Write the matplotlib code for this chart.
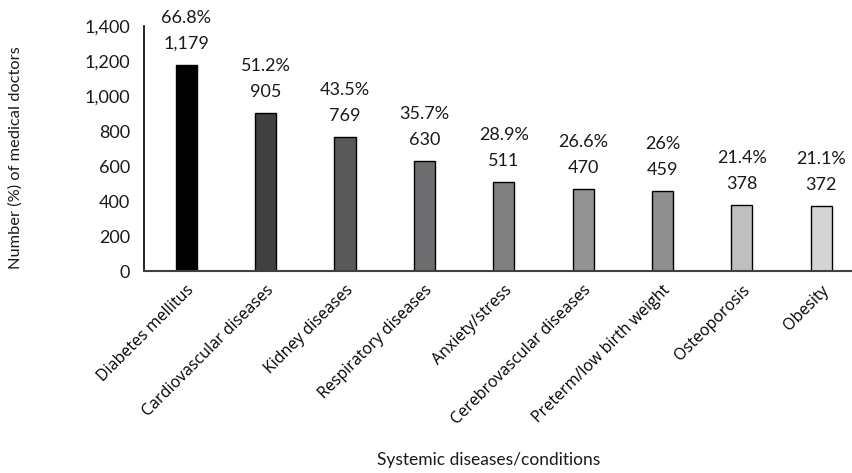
import matplotlib
matplotlib.use("Agg")
import matplotlib.pyplot as plt
import numpy as np

# =============================================================================
# Data
# =============================================================================
diseases = ["Diabetes mellitus", "Cardiovascular diseases", "Kidney diseases",
            "Respiratory diseases", "Anxiety/stress", "Cerebrovascular diseases",
            "Preterm/low birth weight", "Osteoporosis", "Obesity"]
counts = [1179, 905, 769, 630, 511, 470, 459, 378, 372]
percents = ["66.8%", "51.2%", "43.5%", "35.7%", "28.9%", "26.6%", "26%", "21.4%", "21.1%"]
barColors = ["#000000", "#404040", "#595959", "#6d6d70", "#808080",
             "#939393", "#8f8f8f", "#bfbfbf", "#d4d4d4"]
yticks = [0, 200, 400, 600, 800, 1000, 1200, 1400]

txtFont = dict(family="Lato", color="#1a1a1a")

# =============================================================================
# Figure
# =============================================================================
fig = plt.figure(figsize=(8.53, 4.73), dpi=100)
ax = fig.add_axes([0.169, 0.427, 0.831, 0.517])

x = np.arange(len(diseases))
ax.bar(x, counts, width=0.265, color=barColors, edgecolor="black", linewidth=1.0, zorder=2)

# labels au-dessus des barres : pourcentage puis nombre
for xi, c, p in zip(x, counts, percents):
    ax.annotate(f"{c:,}", (xi, c), xytext=(0, 21), textcoords="offset pixels",
                ha="center", va="center", fontsize=13, **txtFont)
    ax.annotate(p, (xi, c), xytext=(0, 47), textcoords="offset pixels",
                ha="center", va="center", fontsize=13, **txtFont)

ax.set_xlim(-0.53, 8.40)
ax.set_ylim(0, 1400)
ax.set_yticks(yticks)
ax.set_yticklabels([f"{v:,}" for v in yticks], fontsize=13, **txtFont)
ax.tick_params(axis="y", length=0, pad=10)
ax.set_xticks(x)
ax.set_xticklabels(diseases, rotation=45, ha="right", va="top", rotation_mode="anchor",
                   fontsize=11.5, family="Open Sans")
ax.tick_params(axis="x", length=0, pad=8)

for side in ["top", "right"]:
    ax.spines[side].set_visible(False)
ax.spines["left"].set_color("black")
ax.spines["left"].set_linewidth(1.2)
ax.spines["bottom"].set_color("#404040")
ax.spines["bottom"].set_linewidth(1.5)

fig.text(0.018, 0.666, "Number (%) of medical doctors", rotation=90, ha="center",
         va="center", fontsize=11.8, **txtFont)
fig.text(0.573, 0.028, "Systemic diseases/conditions", ha="center", va="center",
         fontsize=12.5, **txtFont)

fig.savefig("out.png", dpi=100)
